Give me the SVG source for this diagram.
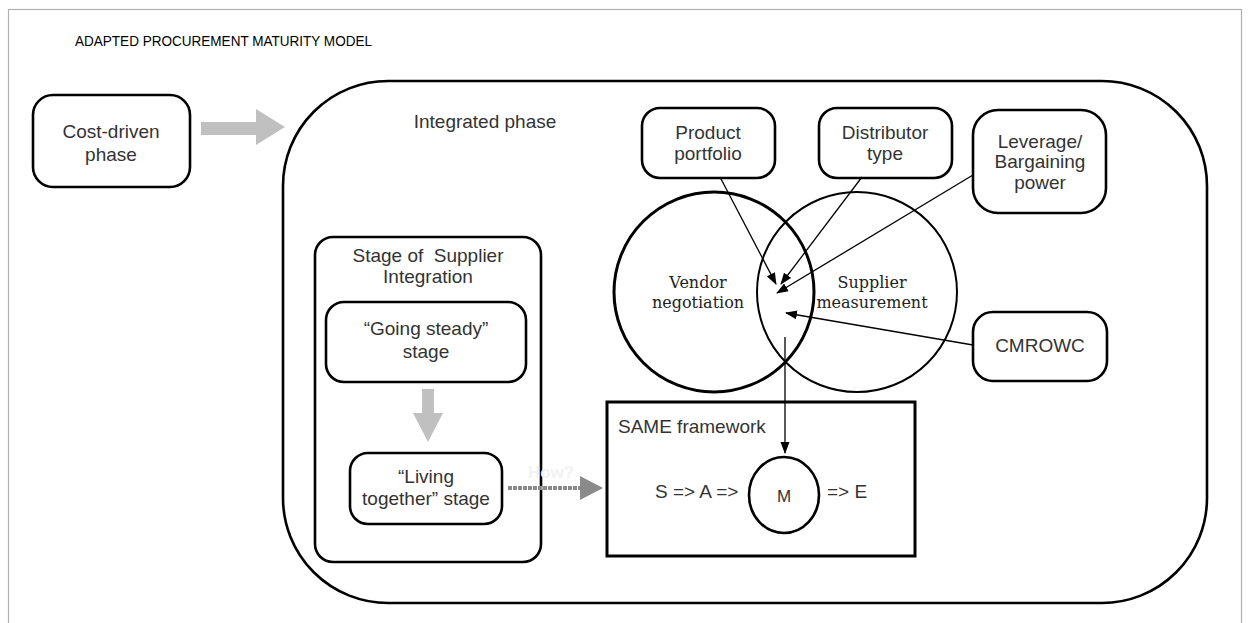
<svg xmlns="http://www.w3.org/2000/svg" width="1248" height="623" viewBox="0 0 1248 623">
<style>
.box{fill:#fff;stroke:#000;stroke-width:2.6}
.t{font-family:"Liberation Sans",Arial,sans-serif;font-size:19px;fill:#333;text-anchor:middle}
.tl{font-family:"Liberation Sans",Arial,sans-serif;font-size:19px;fill:#333;text-anchor:start}
.ts{font-family:"DejaVu Serif","Liberation Serif",serif;font-size:16px;fill:#222;text-anchor:middle}
.gray{fill:#c0c0c0}
.con{stroke:#000;stroke-width:1.3;fill:none;marker-end:url(#ah)}
</style>
<defs>
<marker id="ah" markerUnits="userSpaceOnUse" markerWidth="12" markerHeight="10" refX="11" refY="5" orient="auto">
<path d="M0,0.5 L12,5 L0,9.5 z" fill="#000"/>
</marker>
</defs>
<rect width="1248" height="623" fill="#fff"/>
<rect x="8.5" y="9.5" width="1233" height="640" fill="none" stroke="#b0b0b0" stroke-width="1.2"/>
<text x="75" y="45.5" font-family="'Liberation Sans',Arial,sans-serif" font-size="15" fill="#000" textLength="297" lengthAdjust="spacingAndGlyphs">ADAPTED PROCUREMENT MATURITY MODEL</text>

<g id="integrated-phase">
<rect class="box" x="283" y="81" width="924" height="522" rx="105" stroke-width="3"/>
<text class="t" x="485" y="128">Integrated phase</text>
</g>

<g id="cost-driven">
<rect class="box" x="33" y="95" width="157" height="92" rx="20"/>
<text class="t" x="111" y="138">Cost-driven</text>
<text class="t" x="111" y="161">phase</text>
</g>

<g id="stage-supplier-integration">
<rect class="box" x="315" y="237" width="226" height="325" rx="18"/>
<text class="t" x="428" y="262" xml:space="preserve">Stage of  Supplier</text>
<text class="t" x="428" y="283">Integration</text>
</g>

<g id="going-steady">
<rect class="box" x="326" y="302" width="200" height="80" rx="18"/>
<text class="t" x="426" y="335">“Going steady”</text>
<text class="t" x="426" y="358">stage</text>
</g>

<g id="living-together">
<rect class="box" x="350" y="453" width="152" height="71" rx="18"/>
<text class="t" x="426" y="483">“Living</text>
<text class="t" x="426" y="505">together” stage</text>
</g>

<g id="vendor-negotiation">
<circle cx="714" cy="292" r="100" fill="none" stroke="#000" stroke-width="3"/>
<text class="ts" x="698" y="288">Vendor</text>
<text class="ts" x="698" y="308">negotiation</text>
</g>

<g id="supplier-measurement">
<circle cx="857" cy="292" r="100" fill="none" stroke="#000" stroke-width="2"/>
<text class="ts" x="872" y="288">Supplier</text>
<text class="ts" x="872" y="308">measurement</text>
</g>

<g id="product-portfolio">
<rect class="box" x="642" y="108" width="133" height="70" rx="18"/>
<text class="t" x="708" y="139">Product</text>
<text class="t" x="708" y="160">portfolio</text>
</g>

<g id="distributor-type">
<rect class="box" x="819" y="108" width="133" height="70" rx="18"/>
<text class="t" x="885" y="139">Distributor</text>
<text class="t" x="885" y="160">type</text>
</g>

<g id="leverage">
<rect class="box" x="973" y="110" width="133" height="103" rx="25"/>
<text class="t" x="1040" y="148">Leverage/</text>
<text class="t" x="1040" y="168">Bargaining</text>
<text class="t" x="1040" y="189">power</text>
</g>

<g id="cmrowc">
<rect class="box" x="973" y="312" width="134" height="69" rx="20"/>
<text class="t" x="1040" y="352">CMROWC</text>
</g>

<g id="same-framework">
<rect x="607" y="402" width="308" height="154" fill="none" stroke="#000" stroke-width="3"/>
<text class="tl" x="618" y="433">SAME framework</text>
<text class="tl" x="655" y="498">S =&gt; A =&gt;</text>
<text class="tl" x="827" y="498">=&gt; E</text>
</g>

<g id="m">
<ellipse cx="784" cy="495" rx="35" ry="38" fill="#fff" stroke="#000" stroke-width="2.6"/>
<text class="t" x="784" y="502" style="font-size:17px">M</text>
</g>

<g id="connectors">
<polygon class="gray" points="201,122 256,122 256,109 285,127 256,145 256,135 201,135"/>
<polygon class="gray" points="422,389 434,389 434,413 443,413 428,442 413,413 422,413"/>
<line x1="508" y1="488" x2="584" y2="488" stroke="#8a8a8a" stroke-width="4" stroke-dasharray="4 1"/>
<polygon points="580,476 603,488 580,500" fill="#8a8a8a"/>
<text x="551" y="478" font-family="'Liberation Sans',Arial,sans-serif" font-size="17" font-weight="bold" fill="#f2f2f2" text-anchor="middle">How?</text>
<line class="con" x1="720" y1="177" x2="776" y2="284"/>
<line class="con" x1="862" y1="177" x2="781" y2="284"/>
<line class="con" x1="973" y1="175" x2="777" y2="293"/>
<line class="con" x1="973" y1="345" x2="786" y2="313"/>
<line class="con" x1="785" y1="337" x2="785" y2="453"/>
</g>
</svg>
